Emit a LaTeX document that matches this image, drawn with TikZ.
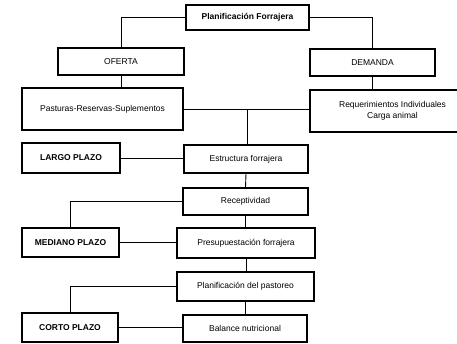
\documentclass[tikz,border=0pt]{standalone}
\usepackage{fontspec}
\setmainfont{Liberation Sans}
\begin{document}
\begin{tikzpicture}[x=1pt,y=-1pt,
  box/.style={draw,line width=1.1pt,inner sep=0pt,align=center,font=\fontsize{8.5}{11}\selectfont},
  bbox/.style={box,font=\fontsize{8.5}{11}\selectfont\bfseries},
  link/.style={line width=0.9pt}]
\useasboundingbox (0,0) rectangle (457,344);
\clip (0,0) rectangle (457,344);
\node[bbox,line width=2pt,minimum width=123pt,minimum height=25pt] (title) at (247.5,17.5) {Planificación Forrajera};
\node[box,minimum width=126pt,minimum height=27pt] (oferta) at (121,61.5) {OFERTA};
\node[box,minimum width=125pt,minimum height=27pt] (demanda) at (372.5,62.5) {DEMANDA};
\node[box,minimum width=161pt,minimum height=42pt] (pasturas) at (102.5,109) {Pasturas-Reservas-Suplementos};
\node[box,minimum width=165pt,minimum height=42pt] (req) at (392.5,111) {Requerimientos Individuales\\Carga animal};
\node[bbox,minimum width=98pt,minimum height=30pt] (largo) at (71,158) {LARGO PLAZO};
\node[box,minimum width=124pt,minimum height=28pt] (estructura) at (246,159) {Estructura forrajera};
\node[box,minimum width=125pt,minimum height=27pt] (recept) at (245.5,201.5) {Receptividad};
\node[bbox,minimum width=97pt,minimum height=29pt] (mediano) at (70.5,242.5) {MEDIANO PLAZO};
\node[box,minimum width=138pt,minimum height=30pt] (presup) at (246,243) {Presupuestación forrajera};
\node[box,minimum width=137pt,minimum height=29pt] (planpast) at (245.5,286.5) {Planificación del pastoreo};
\node[bbox,minimum width=96pt,minimum height=29pt] (corto) at (70,327.5) {CORTO PLAZO};
\node[box,minimum width=124pt,minimum height=27pt] (balance) at (245,328.5) {Balance nutricional};
\coordinate (j) at (247,109);
\draw[link] (title.west) -| (oferta.north);
\draw[link] (title.east) -| (demanda.north);
\draw[link] (oferta.south) -- (oferta.south |- pasturas.north);
\draw[link] (demanda.south) -- (demanda.south |- req.north);
\draw[link] (pasturas.east) -- (pasturas.east -| req.west);
\draw[link] (j) -- (j |- estructura.north);
\draw[link] (largo.east) -- (largo.east -| estructura.west);
\draw[link] (estructura.south) -- (recept.north);
\draw[link] (recept.west) -| (mediano.north);
\draw[link] (recept.south) -- (recept.south |- presup.north);
\draw[link] (mediano.east) -- (mediano.east -| presup.west);
\draw[link] (presup.south) -- (presup.south |- planpast.north);
\draw[link] (planpast.west) -| (corto.north);
\draw[link] (planpast.south) -- (planpast.south |- balance.north);
\draw[link] (corto.east) -- (corto.east -| balance.west);
\end{tikzpicture}
\end{document}
